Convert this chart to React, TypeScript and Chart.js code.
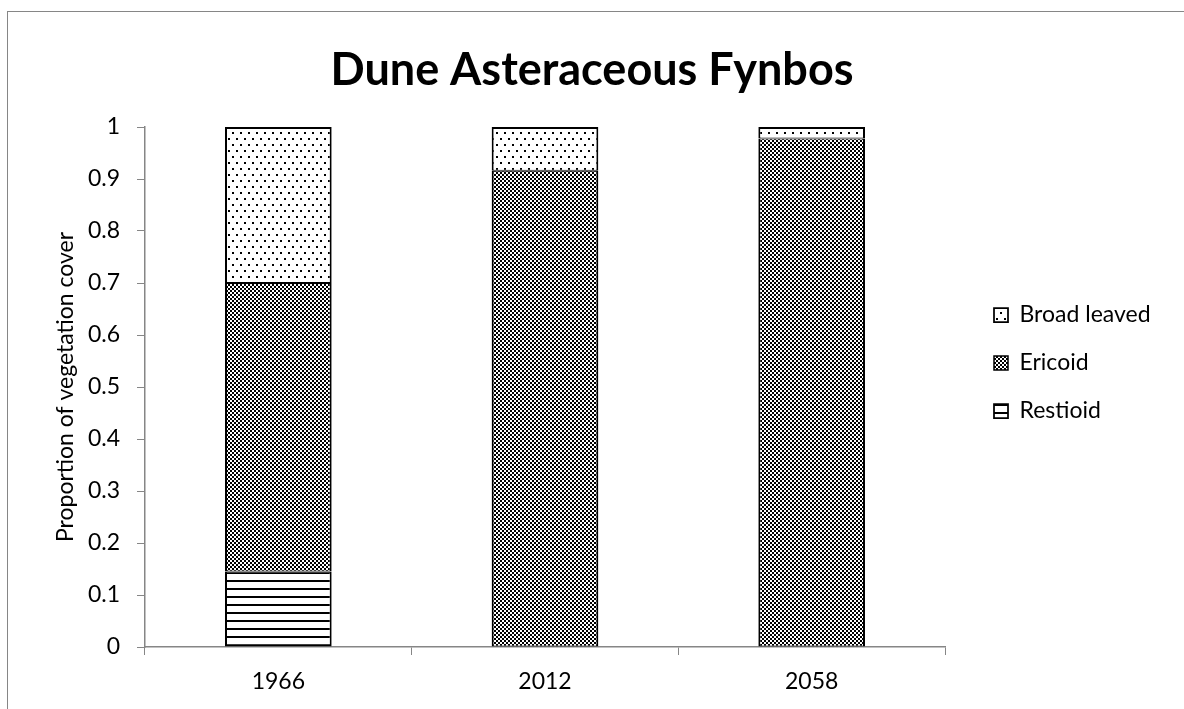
import React, { useEffect, useRef } from "react";
import { Chart, registerables } from "chart.js";

Chart.register(...registerables);

const categories = ["1966", "2012", "2058"];
const seriesNames = ["Restioid", "Ericoid", "Broad leaved"];
const restioid = [0.145, 0, 0];
const ericoid = [0.555, 0.916, 0.978];
const broadLeaved = [0.3, 0.084, 0.022];
const titleText = "Dune Asteraceous Fynbos";
const yAxisTitle = "Proportion of vegetation cover";

const FONT = "Lato, 'Open Sans', sans-serif";

function makePattern(ctx: CanvasRenderingContext2D, kind: string): CanvasPattern | string {
  const c = document.createElement("canvas");
  let w = 4, h = 4;
  if (kind === "dots") { w = 8; h = 12; }
  if (kind === "lines") { w = 8; h = 8; }
  c.width = w; c.height = h;
  const p = c.getContext("2d")!;
  p.fillStyle = "#ffffff";
  p.fillRect(0, 0, w, h);
  p.fillStyle = "#000000";
  if (kind === "checker") {
    p.fillRect(0, 0, 2, 2);
    p.fillRect(2, 2, 2, 2);
  } else if (kind === "dots") {
    p.fillRect(0, 0, 2, 2);
    p.fillRect(4, 6, 2, 2);
  } else {
    p.fillRect(0, 4, 8, 2);
  }
  return ctx.createPattern(c, "repeat") || "#888";
}

const framePlugin = {
  id: "frame",
  beforeDraw(chart: any) {
    const ctx = chart.ctx;
    ctx.save();
    ctx.fillStyle = "#ffffff";
    ctx.fillRect(0, 0, chart.width, chart.height);
    ctx.strokeStyle = "#868686";
    ctx.lineWidth = 1;
    ctx.strokeRect(7.5, 11.5, 1400, 900);
    ctx.restore();
  },
};

const legendPlace = {
  id: "legendPlace",
  beforeUpdate(chart: any) {
    const lg = chart.legend;
    if (lg && !lg.__wrapped) {
      const orig = lg.fit.bind(lg);
      lg.fit = function () {
        orig();
        this.width = 239;
      };
      lg.__wrapped = true;
    }
  },
  afterLayout(chart: any) {
    const lg = chart.legend;
    if (!lg) return;
    lg.left += 24;
    lg.right += 24;
    lg.top += 3;
    lg.bottom += 3;
  },
};

export default function App() {
  const ref = useRef<HTMLCanvasElement>(null);
  useEffect(() => {
    const canvas = ref.current!;
    const ctx = canvas.getContext("2d")!;
    const lines = makePattern(ctx, "lines");
    const checker = makePattern(ctx, "checker");
    const dots = makePattern(ctx, "dots");
    const common = {
      borderColor: "#000000",
      borderSkipped: false as const,
      barPercentage: 0.4,
      categoryPercentage: 1,
    };
    const chart = new Chart(canvas, {
      type: "bar",
      data: {
        labels: categories,
        datasets: [
          {
            label: seriesNames[0], data: restioid, backgroundColor: lines as any, ...common,
            borderWidth: { top: 1, bottom: 2, left: 2, right: 2 },
          },
          {
            label: seriesNames[1], data: ericoid, backgroundColor: checker as any, ...common,
            borderWidth: { top: 1, bottom: 1, left: 2, right: 2 },
          },
          {
            label: seriesNames[2], data: broadLeaved, backgroundColor: dots as any, ...common,
            borderWidth: { top: 2, bottom: 1, left: 2, right: 2 },
          },
        ],
      },
      options: {
        responsive: false,
        animation: false,
        devicePixelRatio: 1,
        layout: { padding: { top: 11, left: 0, right: 0, bottom: 0 } },
        plugins: {
          title: {
            display: true,
            text: titleText,
            color: "#000000",
            font: { family: FONT, size: 45, weight: "bold" },
            padding: { top: 32, bottom: 30 },
          },
          legend: {
            position: "right",
            reverse: true,
            labels: {
              color: "#000000",
              font: { family: FONT, size: 23 },
              boxWidth: 14,
              boxHeight: 14,
              padding: 25,
            },
          },
          tooltip: { enabled: false },
        },
        scales: {
          x: {
            stacked: true,
            grid: {
              display: true,
              drawOnChartArea: false,
              offset: true,
              color: "#868686",
              tickLength: 8,
            },
            border: { color: "#868686", width: 1.5 },
            ticks: { color: "#000000", font: { family: FONT, size: 23 }, padding: 13 },
            afterFit(scale: any) {
              scale.height = 62;
            },
          },
          y: {
            stacked: true,
            min: 0,
            max: 1,
            grid: {
              display: true,
              drawOnChartArea: false,
              color: "#868686",
              tickLength: 8,
            },
            border: { color: "#868686", width: 1.5 },
            ticks: {
              stepSize: 0.1,
              color: "#000000",
              font: { family: FONT, size: 23 },
              padding: 17,
              callback: (v: any) => Number(v).toFixed(1).replace(/\.0$/, ""),
            },
            title: {
              display: true,
              text: yAxisTitle,
              color: "#000000",
              font: { family: FONT, size: 23 },
              padding: { top: 52, bottom: 0 },
            },
            afterFit(scale: any) {
              scale.width = 145;
            },
          },
        },
      },
      plugins: [framePlugin, legendPlace],
    });
    return () => chart.destroy();
  }, []);
  return (
    <div style={{ position: "absolute", left: 0, top: 0, width: 1184, height: 709 }}>
      <canvas ref={ref} width={1184} height={709} style={{ width: 1184, height: 709, display: "block" }} />
    </div>
  );
}
